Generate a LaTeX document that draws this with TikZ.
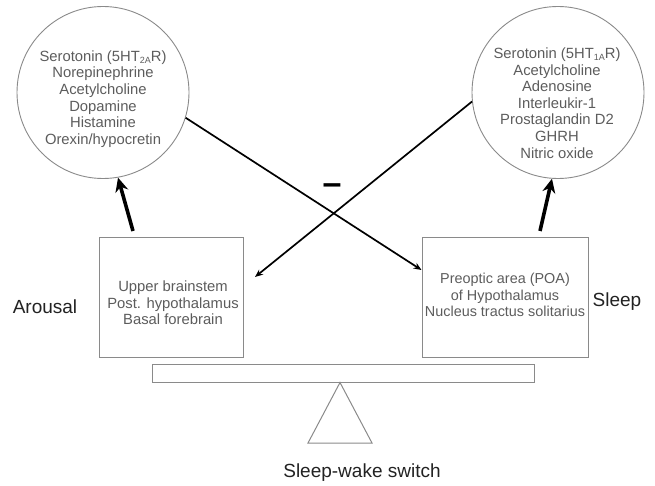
\documentclass[tikz,border=0pt]{standalone}
\usepackage{fontspec}
\setmainfont{Liberation Sans}
\usetikzlibrary{arrows.meta,calc}
\definecolor{outl}{HTML}{8A8A8A}
\definecolor{txtgray}{HTML}{5C5C5C}
\definecolor{lbl}{HTML}{222222}
\newcommand{\subs}[1]{\raisebox{-0.3ex}{\fontsize{9}{9}\selectfont #1}}
\begin{document}
\begin{tikzpicture}[x=1pt,y=-1pt,
  circ/.style={circle,draw=outl,line width=0.9pt,minimum size=172pt,inner sep=0pt},
  boxnode/.style={rectangle,draw=outl,line width=1pt,minimum height=120pt,inner sep=0pt},
  intext/.style={align=center,text=txtgray,font=\fontsize{14.8}{16.6}\selectfont,inner sep=0pt},
  label/.style={text=lbl,font=\fontsize{19}{22}\selectfont,inner sep=0pt},
  thickarrow/.style={line width=3.6pt,-{Stealth[length=14pt,width=13pt,inset=4.5pt]}},
  thinarrow/.style={line width=1.7pt,-{Stealth[length=8pt,width=6.5pt]}}
]
\useasboundingbox (0,0) rectangle (655,486);

% circles
\node[circ] (lc) at (103,92.5) {};
\node[circ] (rc) at (558,92.5) {};
\node[intext] (lct) at (103,99) {Serotonin (5HT\subs{2A}R)\\Norepinephrine\\Acetylcholine\\Dopamine\\Histamine\\Orexin/hypocretin};
\node[intext] (rct) at (557,103) {Serotonin (5HT\subs{1A}R)\\Acetylcholine\\Adenosine\\Interleukir-1\\Prostaglandin D2\\GHRH\\Nitric oxide};

% boxes
\node[boxnode,minimum width=144pt] (lb) at (171,297) {};
\node[boxnode,minimum width=166pt] (rb) at (505,297) {};
\node[intext] (lbt) at (173,303) {Upper brainstem\\Post. hypothalamus\\Basal forebrain};
\node[intext,font=\fontsize{14.4}{16.8}\selectfont] (rbt) at (505,295) {Preoptic area (POA)\\of Hypothalamus\\Nucleus tractus solitarius};

% labels
\node[label] (arousal) at (45,307) {Arousal};
\node[label] (sleep) at (617,302) {Sleep};
\node[label] (switch) at (362,473) {Sleep-wake switch};

% seesaw
\node[rectangle,draw=outl,line width=1pt,minimum width=382pt,minimum height=18pt,inner sep=0pt] (beam) at (343,373) {};
\draw[outl,line width=1pt] (beam.south -| 340,0) -- (308,443) -- (372,443) -- cycle;

% thick arrows
\coordinate (ls) at (133,231);
\coordinate (rs) at (540,231);
\draw[thickarrow] (ls) -- (lc.-80.7);
\draw[thickarrow] (rs) -- (rc.-94);

% crossing arrows
\coordinate (rbin) at ($(rb.west)+(0,-27)$);
\coordinate (lbin) at (255,277);
\draw[thinarrow] (lc.-17.6) -- (rbin);
\draw[thinarrow] (rc.-174.7) -- (lbin);

% minus
\node[anchor=base,inner sep=0pt,font=\fontsize{34}{34}\selectfont\bfseries] (minus) at (332,195) {–};
\end{tikzpicture}
\end{document}
